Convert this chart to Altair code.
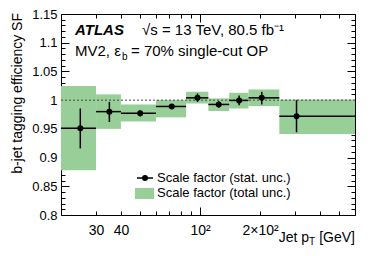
import altair as alt
import pandas as pd

# ---- data ----
bin_lo = [20, 30, 40, 60, 85, 110, 140, 175, 250]
bin_hi = [30, 40, 60, 85, 110, 140, 175, 250, 600]
pt_x = [25, 35, 50, 72, 97, 124, 157, 204, 305]
sf = [0.951, 0.980, 0.977, 0.989, 1.004, 0.9925, 0.9995, 1.004, 0.972]
stat_lo = [0.916, 0.962, 0.9715, 0.985, 0.997, 0.987, 0.991, 0.9925, 0.944]
stat_hi = [0.9855, 0.997, 0.982, 0.993, 1.0115, 0.998, 1.008, 1.0145, 1.000]
tot_lo = [0.878, 0.950, 0.963, 0.970, 0.994, 0.981, 0.9855, 0.9895, 0.941]
tot_hi = [1.0245, 1.010, 0.9925, 1.000, 1.0145, 1.003, 1.0128, 1.0186, 1.001]

x_label_vals = [30, 40, 100, 200]
x_minor_vals = [30, 40, 50, 60, 70, 80, 90, 200, 300, 400, 500]
y_major_vals = [0.8, 0.85, 0.9, 0.95, 1.0, 1.05, 1.1, 1.15]
y_minor_vals = [round(0.8 + 0.01 * i, 2) for i in range(1, 35) if i % 5 != 0]

df = pd.DataFrame({
    "lo": bin_lo, "hi": bin_hi, "x": pt_x, "sf": sf,
    "slo": stat_lo, "shi": stat_hi, "tlo": tot_lo, "thi": tot_hi,
})
one = pd.DataFrame({"k": [0]})

FONT = "Liberation Sans"
GREEN = "#98cf98"
W, H = 294, 201
X0, Y0 = 61, 14


def xs():
    return alt.Scale(type="log", domain=[20, 600], nice=False)


def ys():
    return alt.Scale(domain=[0.8, 1.15], nice=False, zero=False)


def tick_axis(orient, values, size, **kw):
    base = dict(orient=orient, values=values, offset=-size, tickSize=size,
                tickColor="black", tickWidth=1, domain=False, grid=False,
                labels=False, title=None)
    base.update(kw)
    return alt.Axis(**base)


x_label_axis = tick_axis(
    "bottom", x_label_vals, 8,
    tickOpacity={"condition": {"test": "datum.value == 100", "value": 1}, "value": 0},
    labels=True, labelFont=FONT, labelFontSize=14, labelColor="black",
    labelPadding=8, labelOverlap=False, labelFlush=False,
    labelExpr="datum.value == 100 ? '10²' : (datum.value == 200 ? '2×10²' : '' + datum.value)",
)
y_label_axis = tick_axis(
    "left", y_major_vals, 8,
    labels=True, labelFont=FONT, labelFontSize=13, labelColor="black",
    labelPadding=4, labelOverlap=False, labelFlush=False,
    labelExpr="format(datum.value, '~g')",
)

rects = alt.Chart(df).mark_rect(color=GREEN).encode(
    x=alt.X("lo:Q", scale=xs(), axis=x_label_axis),
    x2="hi:Q",
    y=alt.Y("tlo:Q", scale=ys(), axis=y_label_axis),
    y2="thi:Q",
)

dash = alt.Chart(one).mark_rule(color="#444444", strokeDash=[2, 2], strokeWidth=1).encode(
    x=alt.value(0), x2=alt.value(W),
    y=alt.Y(datum=1, scale=ys(), axis=None),
)

xerr = alt.Chart(df).mark_rule(color="black", strokeWidth=1.5).encode(
    x=alt.X("lo:Q", scale=xs(), axis=tick_axis("bottom", x_minor_vals, 4)),
    x2="hi:Q",
    y=alt.Y("sf:Q", scale=ys(), axis=tick_axis("left", y_minor_vals, 4)),
)

yerr = alt.Chart(df).mark_rule(color="black", strokeWidth=1.5).encode(
    x=alt.X("x:Q", scale=xs(), axis=tick_axis("top", x_minor_vals, 4)),
    y=alt.Y("slo:Q", scale=ys(), axis=tick_axis("right", y_minor_vals, 4)),
    y2="shi:Q",
)

pts = alt.Chart(df).mark_point(filled=True, color="black", size=36, opacity=1).encode(
    x=alt.X("x:Q", scale=xs(), axis=tick_axis("top", [100], 8)),
    y=alt.Y("sf:Q", scale=ys(), axis=tick_axis("right", y_major_vals, 8)),
)


def txt(s, x, y, size=15, align="left", baseline="alphabetic", **kw):
    return alt.Chart(one).mark_text(
        text=s, align=align, baseline=baseline, fontSize=size, font=FONT,
        color="black", **kw
    ).encode(x=alt.value(x - X0), y=alt.value(y - Y0))


# legend
leg_line = alt.Chart(one).mark_rule(color="black", strokeWidth=1.5).encode(
    x=alt.value(137 - X0), x2=alt.value(153 - X0), y=alt.value(178 - Y0))
leg_pt = alt.Chart(one).mark_point(filled=True, color="black", size=36, opacity=1).encode(
    x=alt.value(145 - X0), y=alt.value(178 - Y0))
leg_box = alt.Chart(one).mark_rect(color=GREEN).encode(
    x=alt.value(135 - X0), x2=alt.value(154 - X0),
    y=alt.value(188 - Y0), y2=alt.value(199 - Y0))

texts = [
    txt("ATLAS", 75, 35, 15, fontWeight="bold", fontStyle="italic"),
    txt("√s = 13 TeV, 80.5 fb⁻¹", 142, 35, 15),
    txt("MV2, ε", 75, 56, 15),
    txt("b", 122, 60, 10),
    txt("= 70% single-cut OP", 131, 56, 15),
    txt("Scale factor (stat. unc.)", 157, 178, 13, baseline="middle"),
    txt("Scale factor (total unc.)", 157, 193, 13, baseline="middle"),
    txt("[GeV]", 355, 242, 14, align="right"),
    txt("T", 309, 245, 10),
    txt("Jet p", 309, 242, 14, align="right"),
    txt("b-jet tagging efficiency SF", 18, 13, 14, align="right",
        baseline="middle", angle=270),
]

chart = alt.layer(
    rects, dash, xerr, yerr, pts, leg_box, leg_line, leg_pt, *texts
).resolve_scale(
    x="independent", y="independent"
).resolve_axis(
    x="independent", y="independent"
).properties(
    width=W, height=H,
    autosize=alt.AutoSizeParams(type="none"),
    padding={"left": 53, "top": 6, "right": 11, "bottom": 33},
    background="white",
).configure_view(stroke="black", strokeWidth=1)

chart.save("out.html", embed_options={"renderer": "svg", "actions": False})
